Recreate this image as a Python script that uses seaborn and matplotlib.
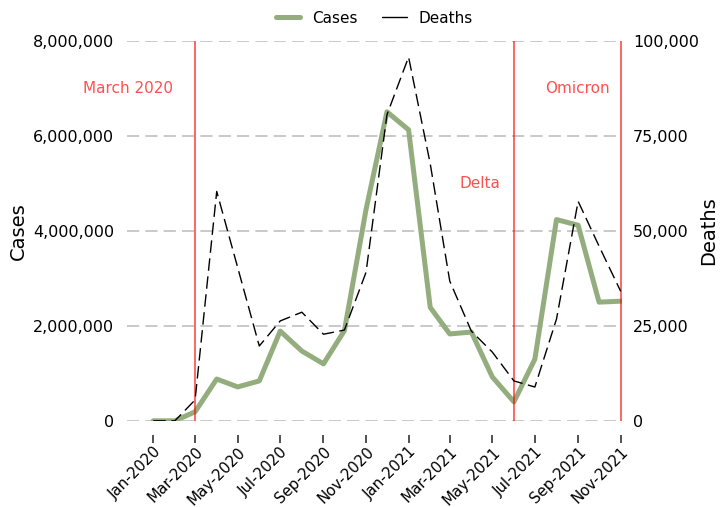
import pandas as pd
import numpy as np
import matplotlib.pyplot as plt
import matplotlib.dates as mdates
from matplotlib.lines import Line2D
import seaborn as sns

months = pd.date_range("2020-01-01", "2021-11-01", freq="MS")

cases = [0, 0, 190000, 880000, 714000, 840000, 1890000, 1470000, 1200000,
         1900000, 4450000, 6510000, 6130000, 2390000, 1830000, 1870000,
         924000, 400000, 1300000, 4240000, 4120000, 2500000, 2520000]
deaths = [0, 0, 5500, 60400, 40400, 19700, 26300, 28600, 22800, 23900,
          39100, 80600, 95800, 67700, 36800, 23600, 18100, 10500, 8900,
          26800, 57800, 46000, 34100]

events = ["2020-03-01", "2021-06-01", "2021-11-01"]
event_labels = ["March 2020", "Delta", "Omicron"]
label_x = ["2019-11-26", "2021-04-13", "2021-08-31"]
label_y = [7000000, 5000000, 7000000]

df = pd.DataFrame({"month": months, "cases": cases, "deaths": deaths})

sns.set_theme(style="white")
plt.rcParams["font.family"] = ["DejaVu Sans"]
plt.rcParams.update({"text.color": "black", "axes.labelcolor": "black",
                     "xtick.color": "black", "ytick.color": "black"})

fig, ax = plt.subplots(figsize=(7.2, 5.07), dpi=100)
fig.subplots_adjust(left=0.176, right=0.864, top=0.919, bottom=0.17)
ax2 = ax.twinx()

green = "#94ad7e"
sns.lineplot(data=df, x="month", y="cases", ax=ax, color=green, linewidth=3.6)
sns.lineplot(data=df, x="month", y="deaths", ax=ax2, color="black",
             linewidth=1.0, linestyle=(0, (9, 4)))

for d in events:
    ax.axvline(pd.Timestamp(d), color="red", alpha=0.7, linewidth=1.2)
for lx, ly, t in zip(label_x, label_y, event_labels):
    ax.text(pd.Timestamp(lx), ly, t, color="#ff5050", fontsize=11,
            ha="center", va="center")

ax.set_ylim(0, 8000000)
ax2.set_ylim(0, 100000)
ax.set_yticks(np.arange(0, 8000001, 2000000))
ax2.set_yticks(np.arange(0, 100001, 25000))
ax.yaxis.set_major_formatter(plt.FuncFormatter(lambda v, p: f"{int(v):,}"))
ax2.yaxis.set_major_formatter(plt.FuncFormatter(lambda v, p: f"{int(v):,}"))
ax.set_xlim(pd.Timestamp("2019-11-24"), pd.Timestamp("2021-11-03"))

ax.xaxis.set_major_locator(mdates.MonthLocator(bymonth=range(1, 13, 2)))
ax.xaxis.set_major_formatter(mdates.DateFormatter("%b-%Y"))

ax.grid(axis="y", color="#bbbbbb", linestyle=(0, (8, 4)), linewidth=1.1)
ax.grid(axis="x", visible=False)
ax2.grid(False)

for a in (ax, ax2):
    for s in a.spines.values():
        s.set_visible(False)
ax.spines["bottom"].set_position(("outward", 10))

ax.tick_params(axis="x", length=6, width=1.2, color="#333333", labelsize=10.8,
               bottom=True, pad=1)
ax.tick_params(axis="y", length=0, pad=9, labelsize=11.5)
ax2.tick_params(axis="y", length=0, pad=8, labelsize=11.5)
plt.setp(ax.get_xticklabels(), rotation=45, ha="right", rotation_mode="anchor")

ax.set_xlabel("")
ax.set_ylabel("Cases", fontsize=14, labelpad=4)
ax2.set_ylabel("Deaths", fontsize=14, labelpad=0)

handles = [Line2D([], [], color=green, linewidth=3.6),
           Line2D([], [], color="black", linewidth=1.0)]
fig.legend(handles, ["Cases", "Deaths"], loc="center", ncol=2,
           bbox_to_anchor=(0.52, 0.964), frameon=False, fontsize=11,
           handlelength=1.6, columnspacing=1.6)

fig.savefig("out.png", dpi=100)
